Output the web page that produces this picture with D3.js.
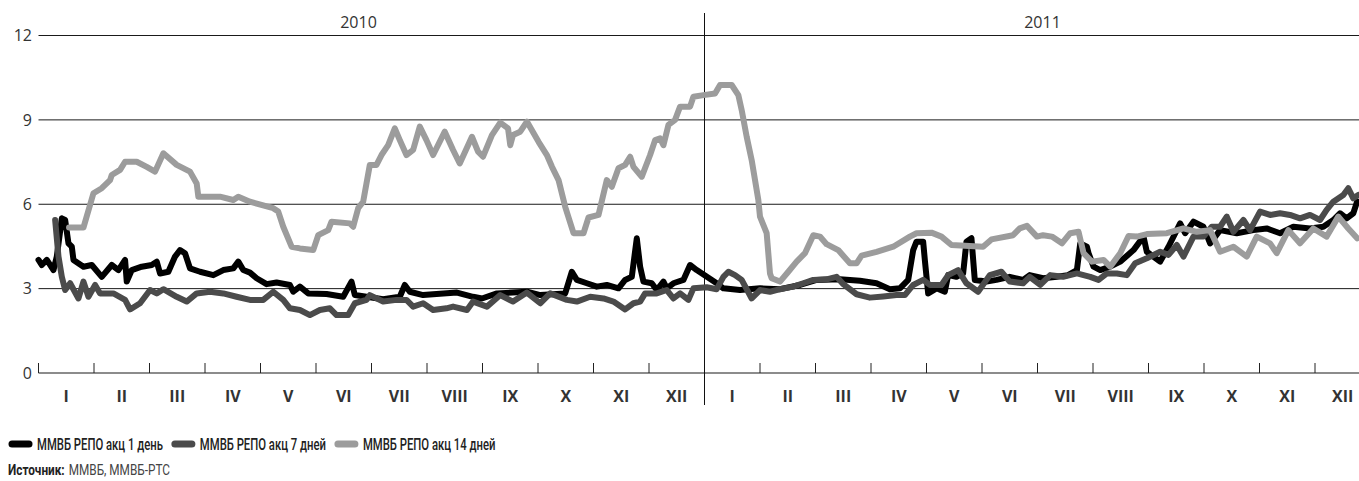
<!DOCTYPE html>
<html><head><meta charset="utf-8">
<script src="https://cdn.jsdelivr.net/npm/d3@7"></script>
<style>
html,body{margin:0;padding:0;background:#fff;}
svg{display:block;}
</style>
</head><body>
<svg id="chart" width="1359" height="481"></svg>
<script>
// ---- data (x = months since start of Jan 2010, y = rate, %) ----
const monthLabels = ["I","II","III","IV","V","VI","VII","VIII","IX","X","XI","XII"];
const yearLabels = ["2010","2011"];
const yTicks = [0,3,6,9,12];
const seriesNames = ["ММВБ РЕПО акц 1 день","ММВБ РЕПО акц 7 дней","ММВБ РЕПО акц 14 дней"];
const sourceLabel = "Источник:";
const sourceText = "ММВБ, ММВБ-РТС";

const repo1 = [[0.00,4.02],[0.06,3.84],[0.15,4.02],[0.27,3.66],[0.33,4.14],[0.42,5.50],[0.48,5.44],[0.54,4.61],[0.60,4.49],[0.63,4.02],[0.81,3.78],[0.96,3.84],[1.14,3.42],[1.32,3.84],[1.44,3.66],[1.56,4.02],[1.59,3.25],[1.68,3.66],[1.86,3.78],[2.04,3.84],[2.13,3.96],[2.19,3.54],[2.34,3.60],[2.46,4.14],[2.55,4.37],[2.64,4.26],[2.73,3.72],[2.91,3.60],[3.15,3.48],[3.33,3.66],[3.51,3.72],[3.60,3.96],[3.69,3.66],[3.81,3.57],[3.93,3.37],[4.11,3.16],[4.29,3.22],[4.53,3.13],[4.59,2.89],[4.71,3.07],[4.86,2.83],[5.19,2.81],[5.49,2.71],[5.64,3.25],[5.70,2.77],[5.91,2.71],[6.21,2.62],[6.51,2.71],[6.60,3.13],[6.69,2.89],[6.93,2.77],[7.11,2.80],[7.54,2.86],[7.83,2.71],[7.99,2.65],[8.26,2.83],[8.80,2.89],[9.04,2.77],[9.49,2.83],[9.61,3.60],[9.70,3.31],[9.88,3.19],[10.06,3.07],[10.24,3.13],[10.45,3.01],[10.57,3.31],[10.69,3.42],[10.78,4.79],[10.84,3.78],[10.90,3.25],[11.05,3.19],[11.14,2.95],[11.26,3.25],[11.32,3.01],[11.44,3.19],[11.62,3.31],[11.74,3.84],[11.86,3.66],[12.22,3.19],[12.34,3.01],[12.64,2.95],[13.00,3.01],[13.36,2.98],[13.72,3.13],[14.02,3.31],[14.44,3.33],[14.80,3.28],[15.10,3.19],[15.34,2.98],[15.52,3.01],[15.67,3.31],[15.76,4.37],[15.82,4.67],[15.94,4.67],[15.97,4.02],[16.03,2.83],[16.18,3.01],[16.33,2.89],[16.39,3.48],[16.54,3.42],[16.66,3.54],[16.72,4.67],[16.81,4.79],[16.87,3.31],[17.08,3.25],[17.26,3.31],[17.50,3.42],[17.74,3.31],[17.86,3.48],[18.10,3.37],[18.35,3.42],[18.55,3.48],[18.71,3.66],[18.77,4.61],[18.89,4.49],[18.92,4.26],[19.01,3.78],[19.13,3.66],[19.31,3.78],[19.49,3.96],[19.73,4.37],[19.91,4.85],[19.97,4.31],[20.21,3.96],[20.36,4.49],[20.57,5.32],[20.66,4.97],[20.81,5.38],[20.99,5.20],[21.11,4.61],[21.29,5.08],[21.59,4.97],[21.89,5.08],[22.13,5.14],[22.37,4.97],[22.61,5.20],[22.91,5.14],[23.15,5.20],[23.33,5.44],[23.45,5.68],[23.57,5.50],[23.69,5.68],[23.76,6.10]];

const repo7 = [[0.30,5.44],[0.36,4.14],[0.42,3.42],[0.48,2.95],[0.57,3.19],[0.72,2.65],[0.81,3.25],[0.90,2.71],[1.02,3.13],[1.11,2.83],[1.35,2.83],[1.56,2.60],[1.65,2.26],[1.83,2.48],[2.01,2.95],[2.13,2.83],[2.25,2.98],[2.49,2.71],[2.67,2.54],[2.85,2.83],[3.09,2.89],[3.33,2.83],[3.57,2.71],[3.81,2.60],[4.05,2.60],[4.23,2.89],[4.41,2.60],[4.53,2.30],[4.71,2.24],[4.89,2.06],[5.07,2.24],[5.25,2.30],[5.37,2.06],[5.58,2.06],[5.70,2.48],[5.91,2.60],[5.97,2.77],[6.21,2.54],[6.45,2.60],[6.63,2.60],[6.75,2.36],[6.93,2.48],[7.11,2.24],[7.35,2.30],[7.47,2.36],[7.72,2.24],[7.83,2.54],[8.08,2.36],[8.32,2.77],[8.55,2.54],[8.80,2.86],[9.04,2.48],[9.22,2.83],[9.52,2.60],[9.70,2.54],[9.94,2.71],[10.18,2.65],[10.36,2.54],[10.57,2.26],[10.72,2.48],[10.84,2.54],[10.93,2.83],[11.14,2.83],[11.32,2.95],[11.44,2.65],[11.56,2.83],[11.71,2.60],[11.80,3.01],[12.04,3.05],[12.22,2.98],[12.34,3.42],[12.43,3.60],[12.55,3.48],[12.67,3.31],[12.85,2.65],[13.00,2.95],[13.18,2.89],[13.36,2.98],[13.60,3.07],[13.78,3.19],[13.96,3.31],[14.20,3.33],[14.38,3.42],[14.50,3.16],[14.74,2.80],[14.98,2.68],[15.22,2.72],[15.46,2.77],[15.61,2.77],[15.76,3.13],[15.94,3.31],[16.06,3.13],[16.27,3.13],[16.39,3.48],[16.57,3.66],[16.72,3.19],[16.93,2.89],[17.14,3.48],[17.35,3.60],[17.50,3.25],[17.74,3.19],[17.86,3.42],[18.05,3.13],[18.23,3.48],[18.46,3.42],[18.71,3.54],[18.95,3.42],[19.10,3.31],[19.25,3.54],[19.43,3.54],[19.61,3.48],[19.76,3.90],[19.97,4.08],[20.21,4.31],[20.36,4.20],[20.51,4.55],[20.63,4.14],[20.81,4.85],[20.99,4.85],[21.14,5.20],[21.29,5.20],[21.41,5.56],[21.53,5.02],[21.71,5.44],[21.83,5.08],[22.01,5.74],[22.19,5.62],[22.37,5.68],[22.55,5.62],[22.73,5.50],[22.91,5.62],[23.09,5.44],[23.21,5.80],[23.33,6.09],[23.51,6.33],[23.60,6.57],[23.69,6.21],[23.78,6.33]];

const repo14 = [[0.55,5.17],[0.81,5.17],[0.99,6.39],[1.14,6.57],[1.29,6.86],[1.32,7.04],[1.47,7.22],[1.56,7.51],[1.77,7.51],[1.95,7.33],[2.10,7.16],[2.25,7.81],[2.49,7.40],[2.73,7.16],[2.85,6.74],[2.88,6.27],[3.27,6.27],[3.51,6.15],[3.60,6.27],[3.81,6.09],[4.23,5.86],[4.32,5.74],[4.41,5.20],[4.56,4.49],[4.71,4.43],[4.95,4.37],[5.04,4.90],[5.22,5.08],[5.28,5.38],[5.61,5.32],[5.67,5.20],[5.76,5.86],[5.85,6.09],[5.97,7.40],[6.09,7.40],[6.18,7.75],[6.30,8.10],[6.42,8.70],[6.51,8.28],[6.63,7.75],[6.75,7.93],[6.87,8.76],[6.99,8.28],[7.11,7.75],[7.32,8.58],[7.47,7.93],[7.59,7.45],[7.81,8.40],[7.92,7.87],[8.01,7.69],[8.17,8.46],[8.32,8.90],[8.46,8.70],[8.50,8.10],[8.55,8.46],[8.68,8.58],[8.80,8.94],[9.01,8.22],[9.16,7.75],[9.25,7.34],[9.37,6.86],[9.46,6.15],[9.49,5.91],[9.64,4.97],[9.82,4.97],[9.91,5.53],[10.09,5.62],[10.24,6.86],[10.33,6.62],[10.45,7.28],[10.57,7.40],[10.66,7.69],[10.72,7.33],[10.87,6.98],[11.02,7.75],[11.11,8.28],[11.20,8.34],[11.26,8.10],[11.35,8.82],[11.47,9.00],[11.56,9.47],[11.74,9.47],[11.80,9.82],[11.98,9.88],[12.19,9.94],[12.28,10.24],[12.49,10.24],[12.61,9.88],[12.67,9.35],[12.76,8.40],[12.85,7.57],[12.97,6.15],[13.00,5.56],[13.12,4.97],[13.18,3.54],[13.21,3.37],[13.36,3.25],[13.51,3.60],[13.66,3.96],[13.81,4.26],[13.96,4.90],[14.08,4.85],[14.20,4.58],[14.41,4.37],[14.62,3.90],[14.74,3.90],[14.83,4.17],[15.10,4.31],[15.40,4.49],[15.70,4.85],[15.82,4.97],[16.09,4.99],[16.27,4.85],[16.45,4.55],[17.02,4.49],[17.17,4.75],[17.56,4.90],[17.68,5.14],[17.81,5.23],[17.99,4.85],[18.10,4.90],[18.26,4.85],[18.44,4.61],[18.59,4.97],[18.74,5.02],[18.83,4.26],[18.98,3.96],[19.19,4.02],[19.31,3.78],[19.49,4.26],[19.64,4.87],[19.79,4.85],[19.97,4.94],[20.33,4.97],[20.63,5.14],[20.87,5.02],[21.11,5.08],[21.29,4.31],[21.53,4.49],[21.77,4.14],[21.95,4.85],[22.19,4.61],[22.31,4.26],[22.52,5.08],[22.73,4.61],[22.97,5.14],[23.21,4.85],[23.42,5.56],[23.60,5.14],[23.76,4.79]];

const seriesData = [repo1, repo7, repo14];
const seriesColors = ["#000000","#4b4b4b","#9c9c9c"];

// ---- layout ----
const svg = d3.select("#chart");
const x = d3.scaleLinear().domain([0, 24]).range([38.5, 1370.5]);
const y = d3.scaleLinear().domain([0, 12]).range([373, 35.5]);
const plotRight = 1359;
const fontMain = "'Open Sans', 'Noto Sans', sans-serif";
const fontLegend = "Roboto, 'Noto Sans', sans-serif";
const legendSize = 17;
const sourceSize = 15;

// gridlines
svg.append("g").selectAll("line").data(yTicks.filter(d => d > 0)).join("line")
  .attr("x1", x(0)).attr("x2", plotRight)
  .attr("y1", d => y(d)).attr("y2", d => y(d))
  .attr("stroke", "#1a1a1a").attr("stroke-width", 1);

// y labels
svg.append("g").selectAll("text").data(yTicks).join("text")
  .attr("x", 32).attr("y", d => y(d)).attr("dy", "0.36em")
  .attr("text-anchor", "end")
  .attr("font-family", fontMain).attr("font-size", 16).attr("fill", "#333")
  .text(d => d);

// x baseline
svg.append("line").attr("x1", x(0)).attr("x2", plotRight)
  .attr("y1", y(0)).attr("y2", y(0)).attr("stroke", "#666").attr("stroke-width", 1.5);

// month ticks
const tickMonths = d3.range(0, 25).filter(m => m !== 12 && x(m) <= plotRight);
svg.append("g").selectAll("line").data(tickMonths).join("line")
  .attr("x1", d => x(d)).attr("x2", d => x(d))
  .attr("y1", y(0)).attr("y2", y(0) - 10)
  .attr("stroke", "#222").attr("stroke-width", 1);

// year divider
svg.append("line").attr("x1", x(12)).attr("x2", x(12))
  .attr("y1", 13).attr("y2", 405).attr("stroke", "#111").attr("stroke-width", 1);

// month labels
const monthPositions = d3.range(24).map(i => ({label: monthLabels[i % 12], m: i + 0.5}));
svg.append("g").selectAll("text").data(monthPositions).join("text")
  .attr("x", d => x(d.m)).attr("y", 402)
  .attr("text-anchor", "middle")
  .attr("font-family", fontMain).attr("font-weight", "bold")
  .attr("font-size", 16).attr("fill", "#333")
  .text(d => d.label);

// year labels
svg.append("g").selectAll("text").data(yearLabels).join("text")
  .attr("x", (d, i) => x(i * 12 + 6) + (i === 0 ? -13 : 5)).attr("y", 28)
  .attr("text-anchor", "middle")
  .attr("font-family", fontMain).attr("font-size", 16).attr("fill", "#333")
  .text(d => d);

// series lines
const line = d3.line().x(d => x(d[0])).y(d => y(d[1])).curve(d3.curveLinear);
svg.append("g").selectAll("path").data(seriesData).join("path")
  .attr("d", line)
  .attr("fill", "none")
  .attr("stroke", (d, i) => seriesColors[i])
  .attr("stroke-width", 6)
  .attr("stroke-linejoin", "round")
  .attr("stroke-linecap", "round");

// legend (condensed look via horizontal scaling)
const legend = svg.append("g");
const probe = legend.append("text").attr("font-family", fontLegend).attr("font-size", legendSize)
  .attr("font-weight", 500).text(seriesNames[0]);
const sx = 126 / probe.node().getComputedTextLength();
probe.remove();
let lx = 9;
seriesNames.forEach((name, i) => {
  legend.append("line").attr("x1", lx + 3).attr("x2", lx + 20)
    .attr("y1", 444).attr("y2", 444)
    .attr("stroke", seriesColors[i]).attr("stroke-width", 7).attr("stroke-linecap", "round");
  const t = legend.append("text")
    .attr("transform", `translate(${lx + 28},444) scale(${sx},1)`)
    .attr("dy", "0.35em")
    .attr("font-family", fontLegend).attr("font-size", legendSize).attr("font-weight", 500)
    .attr("fill", "#222")
    .text(name);
  lx = lx + 28 + t.node().getComputedTextLength() * sx + 9;
});

// source (two separate texts)
const srcA = svg.append("text")
  .attr("dy", "0.35em")
  .attr("font-family", fontLegend).attr("font-size", sourceSize).attr("font-weight", 700)
  .attr("fill", "#222").text(sourceLabel);
const srcB = svg.append("text")
  .attr("dy", "0.35em")
  .attr("font-family", fontLegend).attr("font-size", sourceSize)
  .attr("fill", "#444").text(sourceText);
const nA = srcA.node().getComputedTextLength();
const nB = srcB.node().getComputedTextLength();
const ss = Math.min(1, 158 / (nA + nB));
srcA.attr("transform", `translate(8,470) scale(${ss},1)`);
srcB.attr("transform", `translate(${8 + nA * ss + 4},470) scale(${ss},1)`);
</script>
</body></html>
